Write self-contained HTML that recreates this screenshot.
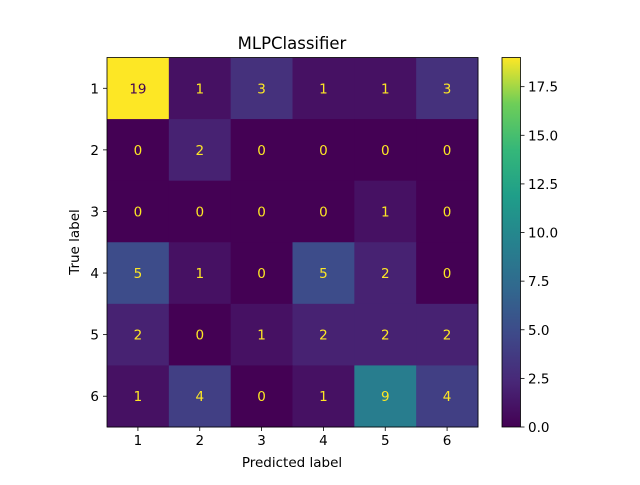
<!DOCTYPE html>
<html><head><meta charset="utf-8"><style>
body{margin:0;background:#fff;}
svg text{font-family:"DejaVu Sans","Liberation Sans",sans-serif;}
</style></head><body>
<svg id="chart" width="640" height="480" xmlns="http://www.w3.org/2000/svg">
<defs>
<linearGradient id="vir" x1="0" y1="1" x2="0" y2="0">
<stop offset="0" stop-color="#440154"/><stop offset="0.125" stop-color="#482878"/>
<stop offset="0.25" stop-color="#3e4989"/><stop offset="0.375" stop-color="#31688e"/>
<stop offset="0.5" stop-color="#26828e"/><stop offset="0.625" stop-color="#1f9e89"/>
<stop offset="0.75" stop-color="#35b779"/><stop offset="0.875" stop-color="#6ece58"/>
<stop offset="1" stop-color="#fde725"/>
</linearGradient>
</defs>
<g id="cells"></g>
<text x="292" y="49" font-size="16.5" text-anchor="middle" fill="#000">MLPClassifier</text>
<text x="292" y="467" font-size="13.5" text-anchor="middle" fill="#000">Predicted label</text>
<text x="79" y="242" font-size="13.5" text-anchor="middle" fill="#000" transform="rotate(-90 79 242)">True label</text>
<rect x="502" y="57.5" width="18.5" height="369.5" fill="url(#vir)" stroke="#000" stroke-width="0.8"/>
<g id="cbticks"></g>
</svg>
<script>
const labels = ["1","2","3","4","5","6"];
const matrix = [
 [19,1,3,1,1,3],
 [0,2,0,0,0,0],
 [0,0,0,0,1,0],
 [5,1,0,5,2,0],
 [2,0,1,2,2,2],
 [1,4,0,1,9,4]
];
const cbTicks = [0,2.5,5,7.5,10,12.5,15,17.5];
const NS="http://www.w3.org/2000/svg";
const L=107,T=57.5,W=371,H=369.5;
const n=labels.length, cw=W/n, ch=H/n;
let vmax=-Infinity,vmin=Infinity;
matrix.forEach(r=>r.forEach(v=>{vmax=Math.max(vmax,v);vmin=Math.min(vmin,v);}));
const stops=["#440154","#482878","#3e4989","#31688e","#26828e","#1f9e89","#35b779","#6ece58","#fde725"];
function hex(h){return [1,3,5].map(i=>parseInt(h.substr(i,2),16));}
function vir(t){t=Math.max(0,Math.min(1,t));const p=t*(stops.length-1);const i=Math.min(Math.floor(p),stops.length-2);const f=p-i;const a=hex(stops[i]),b=hex(stops[i+1]);return "rgb("+a.map((x,k)=>Math.round(x+(b[k]-x)*f)).join(",")+")";}
function el(tag,attrs,parent){const e=document.createElementNS(NS,tag);for(const k in attrs)e.setAttribute(k,attrs[k]);parent.appendChild(e);return e;}
const g=document.getElementById("cells"), svg=document.getElementById("chart");
const xs=i=>L+cw*(i+0.5), ys=j=>T+ch*(j+0.5);
matrix.forEach((row,j)=>row.forEach((v,i)=>{
 const r=el("rect",{x:L+cw*i,y:T+ch*j,width:cw+0.5,height:ch+0.5,fill:vir((v-vmin)/(vmax-vmin))},g);
 
 
 const t=el("text",{x:xs(i),y:ys(j)+5,"font-size":"13.5","text-anchor":"middle",fill:v>(vmax+vmin)/2?"#440154":"#fde725"},g);
 t.textContent=v;
 
 
}));
el("rect",{x:L,y:T,width:W,height:H,fill:"none",stroke:"#000","stroke-width":"0.8"},g);
labels.forEach((lb,i)=>{
 el("line",{x1:xs(i),x2:xs(i),y1:T+H,y2:T+H+4,stroke:"#000","stroke-width":"0.8"},g);
 const t=el("text",{x:xs(i),y:T+H+18,"font-size":"13.5","text-anchor":"middle"},g);t.textContent=lb;
 
 
 el("line",{x1:L-4,x2:L,y1:ys(i),y2:ys(i),stroke:"#000","stroke-width":"0.8"},g);
 const u=el("text",{x:L-8,y:ys(i)+5,"font-size":"13.5","text-anchor":"end"},g);u.textContent=lb;
 
 
});
const cg=document.getElementById("cbticks");
const cbY=v=>T+H-(v-vmin)/(vmax-vmin)*H;
cbTicks.forEach(v=>{
 el("line",{x1:520.5,x2:524.5,y1:cbY(v),y2:cbY(v),stroke:"#000","stroke-width":"0.8"},cg);
 const t=el("text",{x:528,y:cbY(v)+5,"font-size":"13.5"},cg);t.textContent=v.toFixed(1);
 
 
});
</script>
</body></html>
